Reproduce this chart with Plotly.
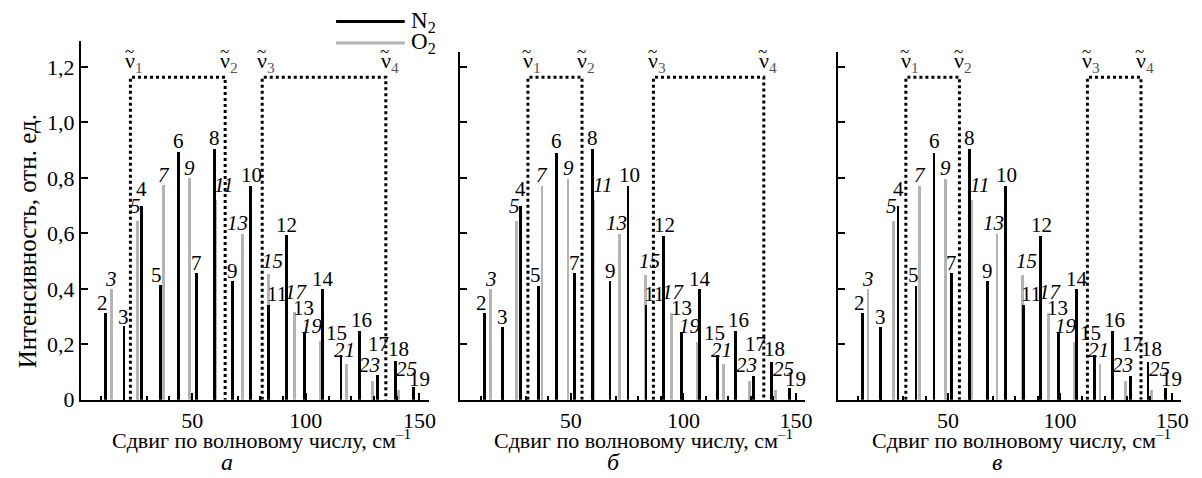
import plotly.graph_objects as go

# ---------------- data ----------------
n2_labels = ["2", "3", "4", "5", "6", "7", "8", "9", "10", "11", "12", "13", "14", "15", "16", "17", "18", "19"]
n2_shift = [11.9, 19.9, 27.8, 35.8, 43.8, 51.7, 59.7, 67.6, 75.6, 83.6, 91.5, 99.5, 107.4, 115.4, 123.4, 131.3, 139.3, 147.2]
n2_int = [0.312, 0.265, 0.698, 0.412, 0.892, 0.458, 0.905, 0.428, 0.772, 0.342, 0.593, 0.244, 0.400, 0.162, 0.248, 0.088, 0.138, 0.045]

o2_labels = ["3", "5", "7", "9", "11", "13", "15", "17", "19", "21", "23", "25"]
o2_shift = [14.4, 25.9, 37.4, 48.9, 60.4, 71.9, 83.4, 94.9, 106.4, 117.9, 129.4, 140.9]
o2_int = [0.400, 0.645, 0.773, 0.798, 0.721, 0.598, 0.452, 0.315, 0.210, 0.129, 0.069, 0.035]

panel_letters = ["а", "б", "в"]
nu_panel_a = [22.8, 64.5, 80.8, 135.2]
nu_panel_b = [31.0, 55.0, 86.7, 135.7]
nu_panel_c = [31.2, 55.1, 112.2, 136.1]
nu_box_top = 1.163

y_tick_vals = [0, 0.2, 0.4, 0.6, 0.8, 1.0, 1.2]
y_tick_text = ["0", "0,2", "0,4", "0,6", "0,8", "1,0", "1,2"]
x_tick_vals = [50, 100, 150]
x_tick_text = ["50", "100", "150"]

y_title = "Интенсивность, отн. ед."
x_title = "Сдвиг по волновому числу, см<sup>–1</sup>"
legend_names = ["N<sub>2</sub>", "O<sub>2</sub>"]

# ---------------- styles / positions ----------------
W, H = 1202, 478
FONT = "Liberation Serif, Times New Roman, serif"
N2_COLOR = "black"
O2_COLOR = "#b4b4b4"

# label offsets in pixels (dx right, dy up from bar top)
n2_dx = [-3, 0, 0, -3, 0, 0, 0, 0, 1, 8, 0, -1, 0, -4, 2, 2, 3, 6]
n2_dy = [10, 9, 17, 11, 11, 10, 11, 10, 11, 11, 10, 24, 10, 22, 11, 31, 12, 8]
o2_dx = [0, -2, 0, 0, 8, -4, 4, 2, -8, -2, -3, 8]
o2_dy = [10, 15, 10, 11, 15, 11, 13, 20, 16, 14, 16, 21]

base_px = 402.7
panels = [
    dict(x0=73.3, x1=423.0, top=34.0, nu=nu_panel_a, xt=255, letter_x=220),
    dict(x0=455.0, x1=801.7, top=45.0, nu=nu_panel_b, xt=639, letter_x=609),
    dict(x0=835.0, x1=1180.0, top=45.0, nu=nu_panel_c, xt=1019, letter_x=995),
]
x_range = [1.0, 154.0]
px_per_unit_y = 285.0

fig = go.Figure()
annotations = []
shapes = []

for i, p in enumerate(panels):
    sfx = "" if i == 0 else str(i + 1)
    xa, ya = "x" + sfx, "y" + sfx
    ymax = (base_px - p["top"]) / px_per_unit_y

    fig.add_trace(go.Bar(x=o2_shift, y=o2_int, width=1.25, marker=dict(color=O2_COLOR, line=dict(width=0)),
                         xaxis=xa, yaxis=ya, showlegend=False, hoverinfo="skip"))
    fig.add_trace(go.Bar(x=n2_shift, y=n2_int, width=1.25, marker=dict(color=N2_COLOR, line=dict(width=0)),
                         xaxis=xa, yaxis=ya, showlegend=False, hoverinfo="skip"))

    nu = p["nu"]
    for a, b in [(nu[0], nu[1]), (nu[2], nu[3])]:
        fig.add_trace(go.Scatter(x=[a, a, b, b], y=[0, nu_box_top, nu_box_top, 0], mode="lines",
                                 line=dict(color="black", width=3, dash="dot"),
                                 xaxis=xa, yaxis=ya, showlegend=False, hoverinfo="skip"))
    for k, v in enumerate(nu):
        annotations.append(dict(x=v, y=1.218, xref=xa, yref=ya,
                                text="ν<sub><span style='color:#555'>%d</span></sub>" % (k + 1),
                                showarrow=False, xanchor="left", yanchor="middle", xshift=-7,
                                font=dict(family=FONT, size=22, color="black")))
        annotations.append(dict(x=v, y=1.218, xref=xa, yref=ya, text="~",
                                showarrow=False, xanchor="center", yanchor="middle", xshift=-1, yshift=11,
                                font=dict(family=FONT, size=17, color="black")))

    for lab, xv, yv, dx, dy in zip(n2_labels, n2_shift, n2_int, n2_dx, n2_dy):
        annotations.append(dict(x=xv, y=yv, xref=xa, yref=ya, text=lab, showarrow=False,
                                xanchor="center", yanchor="middle", xshift=dx, yshift=dy,
                                font=dict(family=FONT, size=21, color="black")))
    for lab, xv, yv, dx, dy in zip(o2_labels, o2_shift, o2_int, o2_dx, o2_dy):
        annotations.append(dict(x=xv, y=yv, xref=xa, yref=ya, text="<i>%s</i>" % lab, showarrow=False,
                                xanchor="center", yanchor="middle", xshift=dx, yshift=dy,
                                font=dict(family=FONT, size=21, color="black")))

    axis_common = dict(showline=True, linecolor="black", linewidth=2, showgrid=False, zeroline=False,
                       ticks="inside", tickcolor="black", tickwidth=2,
                       tickfont=dict(family=FONT, size=22, color="black"))
    fig.update_layout(**{
        "xaxis" + sfx: dict(axis_common, domain=[p["x0"] / W, p["x1"] / W], range=x_range, anchor=ya,
                            tickvals=x_tick_vals, ticktext=x_tick_text, ticklen=7, ticklabelstandoff=0,
                            minor=dict(dtick=10, tick0=0, ticks="inside", ticklen=4, tickcolor="black", tickwidth=2)),
        "yaxis" + sfx: dict(axis_common, domain=[1 - base_px / H, 1 - p["top"] / H], range=[0, ymax], anchor=xa,
                            tickvals=y_tick_vals, ticktext=y_tick_text, ticklen=7,
                            showticklabels=(i == 0)),
    })

    annotations.append(dict(x=p["xt"] / W, y=1 - 443 / H, xref="paper", yref="paper", text=x_title,
                            showarrow=False, xanchor="center", yanchor="middle",
                            font=dict(family=FONT, size=22, color="black")))
    annotations.append(dict(x=p["letter_x"] / W, y=1 - 467 / H, xref="paper", yref="paper",
                            text="<i>%s</i>" % panel_letters[i], showarrow=False,
                            xanchor="center", yanchor="middle",
                            font=dict(family=FONT, size=24, color="black")))

annotations.append(dict(x=20 / W, y=1 - 240 / H, xref="paper", yref="paper", text=y_title, textangle=-90,
                        showarrow=False, xanchor="center", yanchor="middle",
                        font=dict(family=FONT, size=25, color="black")))

# manual legend
for k, (name, col) in enumerate(zip(legend_names, [N2_COLOR, O2_COLOR])):
    yy = 1 - (14 + 22 * k) / H
    shapes.append(dict(type="line", xref="paper", yref="paper", x0=330 / W, x1=399 / W, y0=yy, y1=yy,
                       line=dict(color=col, width=3)))
    annotations.append(dict(x=403 / W, y=yy, xref="paper", yref="paper", text=name, showarrow=False,
                            xanchor="left", yanchor="middle",
                            font=dict(family=FONT, size=23, color="black")))

fig.update_layout(width=W, height=H, margin=dict(l=0, r=0, t=0, b=0),
                  paper_bgcolor="white", plot_bgcolor="white", barmode="overlay", bargap=0,
                  annotations=annotations, shapes=shapes, showlegend=False)

fig.write_html("out.html")
